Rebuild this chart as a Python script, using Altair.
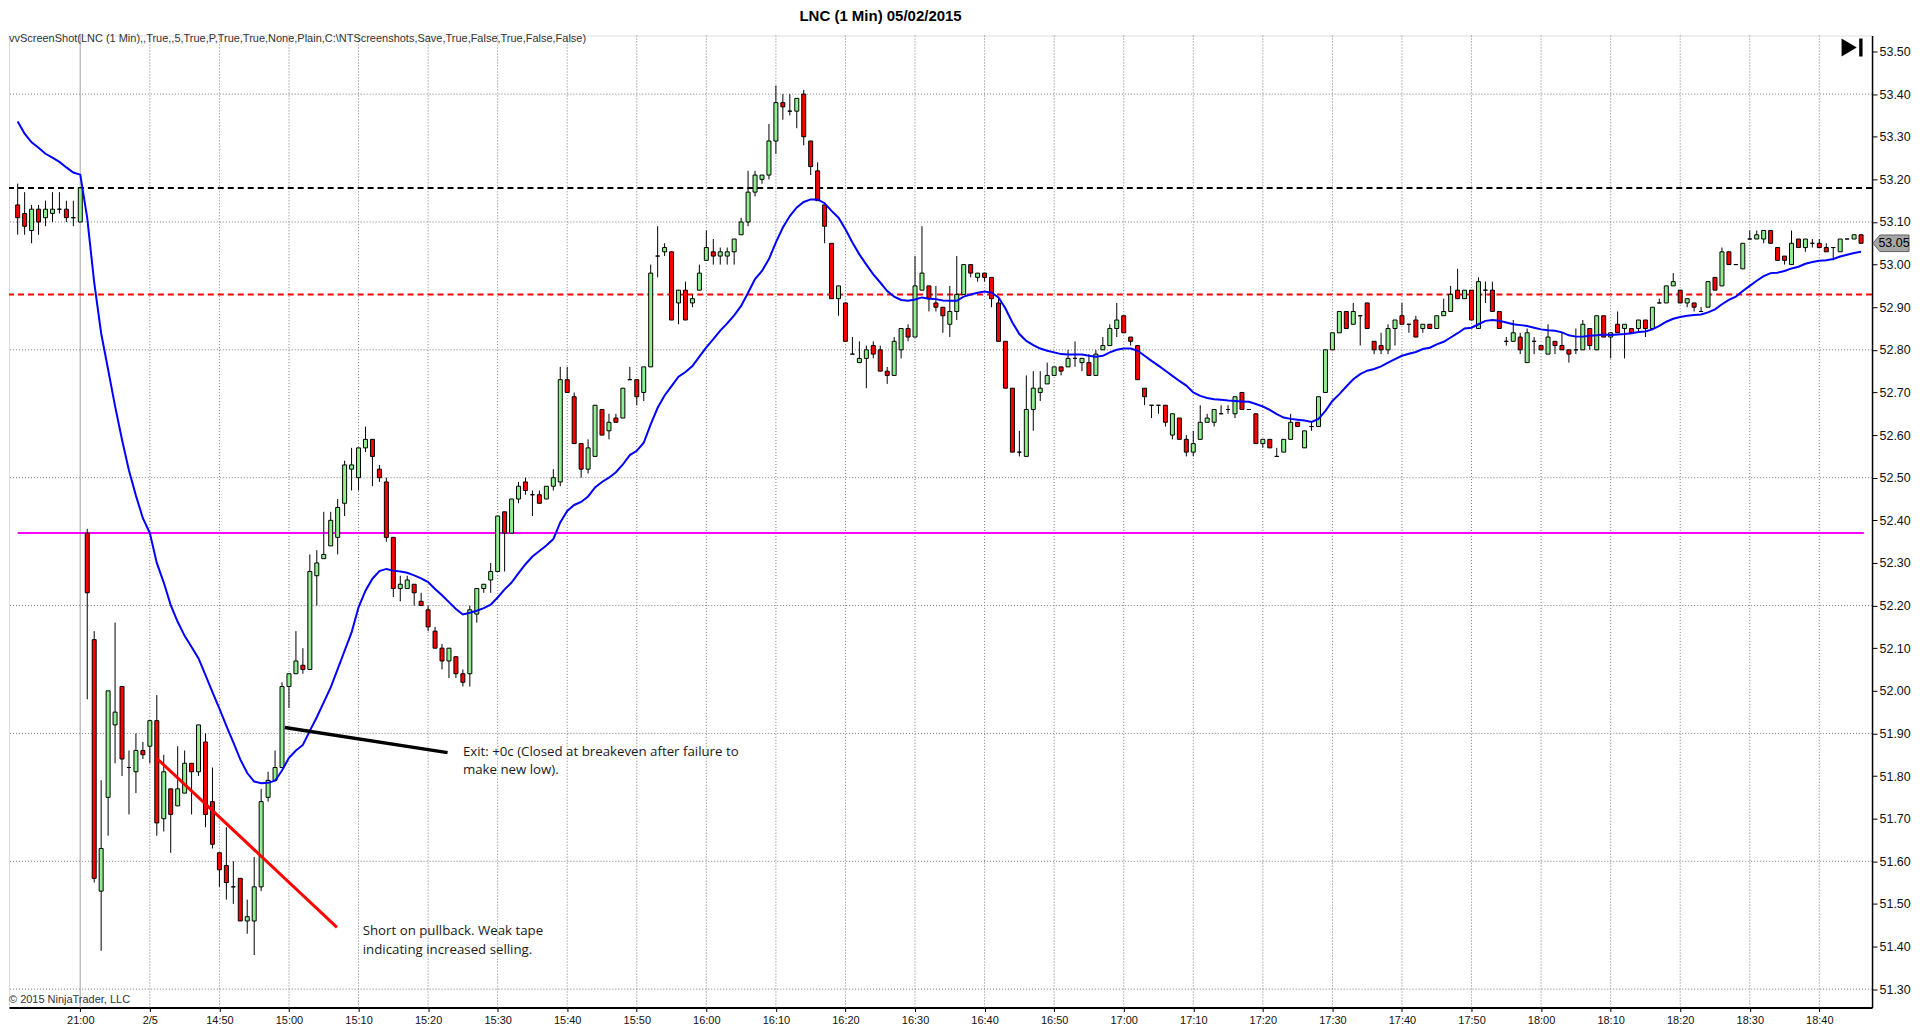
import altair as alt
import pandas as pd

# ---------------- data ----------------
first_bar = -9  # bar index of the first candle (21:00 bar is index 0)

opens = [
    53.14, 53.12, 53.08, 53.13, 53.11, 53.12, 53.13, 53.13, 53.11, 53.10,
    52.37, 52.12, 51.53, 51.75, 51.92, 52.01, 51.82, 51.81, 51.86, 51.87,
    51.93, 51.70, 51.77, 51.73, 51.76, 51.83, 51.81, 51.88, 51.74, 51.62,
    51.59, 51.54, 51.56, 51.46, 51.46, 51.54, 51.75, 51.79, 51.82, 52.01,
    52.04, 52.06, 52.05, 52.27, 52.31, 52.34, 52.36, 52.44, 52.52, 52.50,
    52.57, 52.59, 52.52, 52.49, 52.36, 52.24, 52.24, 52.25, 52.21, 52.19,
    52.14, 52.10, 52.07, 52.08, 52.04, 52.04, 52.18, 52.24, 52.26, 52.28,
    52.42, 52.37, 52.45, 52.49, 52.46, 52.46, 52.45, 52.48, 52.49, 52.73,
    52.69, 52.58, 52.52, 52.55, 52.66, 52.61, 52.64, 52.64, 52.73, 52.73,
    52.70, 52.76, 53.02, 53.03, 53.03, 52.91, 52.94, 52.91, 52.94, 53.01,
    53.03, 53.02, 53.02, 53.03, 53.07, 53.10, 53.17, 53.20, 53.21, 53.29,
    53.38, 53.36, 53.36, 53.40, 53.29, 53.22, 53.14, 53.05, 52.92, 52.91,
    52.79, 52.77, 52.78, 52.81, 52.80, 52.75, 52.74, 52.80, 52.85, 52.83,
    52.94, 52.95, 52.91, 52.90, 52.86, 52.89, 52.93, 53.00, 52.97, 52.98,
    52.97, 52.91, 52.82, 52.71, 52.56, 52.55, 52.66, 52.70, 52.72, 52.74,
    52.76, 52.76, 52.78, 52.77, 52.77, 52.74, 52.80, 52.81, 52.85, 52.88,
    52.83, 52.81, 52.71, 52.67, 52.67, 52.67, 52.60, 52.64, 52.59, 52.56,
    52.59, 52.63, 52.63, 52.65, 52.66, 52.65, 52.70, 52.66, 52.65, 52.58,
    52.59, 52.55, 52.56, 52.59, 52.63, 52.57, 52.62, 52.62, 52.70, 52.80,
    52.84, 52.89, 52.86, 52.88, 52.91, 52.82, 52.81, 52.80, 52.85, 52.88,
    52.86, 52.87, 52.85, 52.86, 52.85, 52.88, 52.89, 52.94, 52.92, 52.94,
    52.85, 52.94, 52.94, 52.89, 52.82, 52.82, 52.83, 52.77, 52.82, 52.81,
    52.79, 52.82, 52.81, 52.80, 52.80, 52.80, 52.85, 52.80, 52.88, 52.83,
    52.86, 52.85, 52.85, 52.85, 52.87, 52.85, 52.91, 52.91, 52.95, 52.94,
    52.91, 52.91, 52.89, 52.90, 52.97, 52.95, 53.03, 53.00, 52.99, 53.06,
    53.06, 53.06, 53.08, 53.04, 53.02, 53.00, 53.06, 53.04, 53.05, 53.05,
    53.04, 53.04, 53.03, 53.06, 53.06, 53.07,
]
highs = [
    53.19, 53.17, 53.14, 53.14, 53.15, 53.17, 53.17, 53.15, 53.15, 53.18,
    52.38, 52.14, 51.79, 52.00, 52.16, 52.01, 51.86, 51.90, 51.88, 51.93,
    51.99, 51.85, 51.77, 51.87, 51.86, 51.83, 51.92, 51.90, 51.82, 51.62,
    51.68, 51.60, 51.56, 51.51, 51.61, 51.77, 51.81, 51.86, 52.02, 52.04,
    52.14, 52.10, 52.32, 52.33, 52.42, 52.42, 52.45, 52.54, 52.57, 52.57,
    52.62, 52.59, 52.53, 52.50, 52.36, 52.27, 52.27, 52.25, 52.23, 52.20,
    52.15, 52.11, 52.10, 52.08, 52.05, 52.20, 52.24, 52.25, 52.30, 52.41,
    52.42, 52.45, 52.49, 52.50, 52.47, 52.47, 52.48, 52.52, 52.76, 52.76,
    52.70, 52.58, 52.59, 52.67, 52.66, 52.65, 52.65, 52.71, 52.76, 52.73,
    52.76, 53.00, 53.09, 53.05, 53.03, 52.94, 52.96, 52.93, 53.00, 53.08,
    53.06, 53.04, 53.04, 53.06, 53.11, 53.22, 53.22, 53.21, 53.33, 53.42,
    53.40, 53.40, 53.39, 53.41, 53.29, 53.24, 53.14, 53.05, 52.95, 52.91,
    52.83, 52.82, 52.81, 52.82, 52.81, 52.76, 52.83, 52.85, 52.86, 53.02,
    53.09, 52.95, 52.95, 52.90, 52.95, 53.02, 53.00, 53.00, 52.98, 52.98,
    52.97, 52.92, 52.82, 52.71, 52.61, 52.74, 52.75, 52.75, 52.77, 52.76,
    52.76, 52.80, 52.82, 52.78, 52.79, 52.80, 52.83, 52.86, 52.91, 52.88,
    52.83, 52.81, 52.71, 52.67, 52.67, 52.67, 52.65, 52.64, 52.60, 52.61,
    52.67, 52.65, 52.66, 52.67, 52.67, 52.69, 52.70, 52.66, 52.65, 52.59,
    52.59, 52.57, 52.59, 52.65, 52.63, 52.61, 52.63, 52.69, 52.80, 52.84,
    52.89, 52.89, 52.91, 52.88, 52.91, 52.82, 52.84, 52.86, 52.87, 52.91,
    52.86, 52.88, 52.86, 52.86, 52.88, 52.92, 52.95, 52.99, 52.94, 52.94,
    52.97, 52.96, 52.96, 52.89, 52.83, 52.87, 52.84, 52.85, 52.83, 52.81,
    52.86, 52.82, 52.84, 52.80, 52.85, 52.87, 52.85, 52.88, 52.88, 52.84,
    52.89, 52.86, 52.85, 52.87, 52.87, 52.90, 52.92, 52.95, 52.98, 52.94,
    52.92, 52.91, 52.90, 52.96, 52.97, 53.04, 53.03, 53.00, 53.05, 53.08,
    53.08, 53.08, 53.08, 53.04, 53.02, 53.08, 53.06, 53.06, 53.06, 53.06,
    53.05, 53.04, 53.06, 53.06, 53.07, 53.07,
]
lows = [
    53.07, 53.07, 53.05, 53.07, 53.09, 53.10, 53.12, 53.10, 53.09, 53.10,
    51.98, 51.55, 51.39, 51.66, 51.83, 51.80, 51.71, 51.76, 51.84, 51.83,
    51.66, 51.67, 51.62, 51.73, 51.76, 51.71, 51.80, 51.68, 51.63, 51.54,
    51.51, 51.50, 51.46, 51.43, 51.38, 51.53, 51.74, 51.79, 51.82, 51.96,
    52.04, 52.04, 52.05, 52.20, 52.31, 52.34, 52.32, 52.41, 52.47, 52.47,
    52.56, 52.48, 52.49, 52.35, 52.22, 52.21, 52.24, 52.20, 52.20, 52.14,
    52.10, 52.05, 52.03, 52.03, 52.01, 52.01, 52.16, 52.23, 52.23, 52.28,
    52.28, 52.37, 52.44, 52.46, 52.41, 52.44, 52.45, 52.47, 52.48, 52.70,
    52.58, 52.50, 52.51, 52.55, 52.60, 52.59, 52.63, 52.64, 52.73, 52.67,
    52.68, 52.76, 52.97, 53.02, 52.87, 52.86, 52.87, 52.90, 52.94, 53.01,
    53.00, 53.00, 53.00, 53.00, 53.07, 53.09, 53.16, 53.19, 53.20, 53.26,
    53.34, 53.35, 53.32, 53.28, 53.21, 53.15, 53.05, 52.92, 52.88, 52.82,
    52.79, 52.77, 52.71, 52.78, 52.75, 52.72, 52.74, 52.78, 52.82, 52.83,
    52.94, 52.89, 52.89, 52.84, 52.83, 52.87, 52.93, 52.97, 52.96, 52.96,
    52.90, 52.82, 52.71, 52.56, 52.55, 52.55, 52.61, 52.68, 52.72, 52.74,
    52.74, 52.76, 52.76, 52.75, 52.74, 52.74, 52.80, 52.81, 52.83, 52.84,
    52.81, 52.73, 52.67, 52.64, 52.65, 52.62, 52.59, 52.59, 52.55, 52.55,
    52.59, 52.63, 52.62, 52.65, 52.65, 52.64, 52.66, 52.66, 52.58, 52.57,
    52.57, 52.55, 52.56, 52.59, 52.62, 52.57, 52.61, 52.62, 52.70, 52.80,
    52.84, 52.85, 52.86, 52.81, 52.85, 52.79, 52.79, 52.79, 52.81, 52.86,
    52.84, 52.83, 52.84, 52.85, 52.85, 52.88, 52.89, 52.92, 52.92, 52.87,
    52.85, 52.91, 52.89, 52.85, 52.81, 52.82, 52.79, 52.77, 52.79, 52.80,
    52.79, 52.79, 52.80, 52.77, 52.79, 52.80, 52.80, 52.80, 52.83, 52.78,
    52.84, 52.78, 52.84, 52.84, 52.83, 52.85, 52.91, 52.91, 52.95, 52.91,
    52.90, 52.89, 52.89, 52.90, 52.94, 52.95, 53.00, 53.00, 52.99, 53.06,
    53.06, 53.05, 53.05, 53.01, 53.00, 53.00, 53.04, 53.03, 53.04, 53.04,
    53.03, 53.01, 53.03, 53.06, 53.06, 53.05,
]
closes = [
    53.11, 53.09, 53.13, 53.10, 53.13, 53.13, 53.13, 53.11, 53.11, 53.18,
    52.23, 51.56, 51.63, 52.00, 51.95, 51.84, 51.82, 51.86, 51.85, 51.93,
    51.69, 51.81, 51.71, 51.77, 51.83, 51.81, 51.92, 51.71, 51.64, 51.58,
    51.55, 51.54, 51.46, 51.47, 51.54, 51.74, 51.79, 51.82, 52.01, 52.04,
    52.07, 52.05, 52.28, 52.30, 52.32, 52.40, 52.43, 52.53, 52.53, 52.57,
    52.59, 52.55, 52.50, 52.36, 52.24, 52.25, 52.26, 52.23, 52.20, 52.15,
    52.10, 52.07, 52.10, 52.04, 52.02, 52.19, 52.24, 52.25, 52.28, 52.41,
    52.37, 52.45, 52.48, 52.47, 52.46, 52.44, 52.48, 52.50, 52.73, 52.70,
    52.58, 52.52, 52.57, 52.67, 52.60, 52.63, 52.63, 52.71, 52.73, 52.69,
    52.76, 52.98, 53.02, 53.04, 52.87, 52.94, 52.87, 52.92, 52.98, 53.04,
    53.02, 53.03, 53.03, 53.06, 53.10, 53.17, 53.21, 53.21, 53.29, 53.38,
    53.37, 53.36, 53.39, 53.30, 53.23, 53.15, 53.09, 52.92, 52.95, 52.82,
    52.79, 52.78, 52.80, 52.79, 52.75, 52.74, 52.82, 52.85, 52.83, 52.95,
    52.98, 52.92, 52.90, 52.88, 52.89, 52.93, 53.00, 52.98, 52.98, 52.97,
    52.92, 52.82, 52.71, 52.56, 52.56, 52.66, 52.71, 52.71, 52.74, 52.76,
    52.75, 52.78, 52.78, 52.78, 52.74, 52.79, 52.81, 52.85, 52.87, 52.84,
    52.82, 52.73, 52.69, 52.67, 52.67, 52.63, 52.65, 52.59, 52.56, 52.58,
    52.63, 52.64, 52.66, 52.65, 52.66, 52.69, 52.66, 52.66, 52.58, 52.59,
    52.57, 52.55, 52.59, 52.63, 52.62, 52.61, 52.62, 52.69, 52.80, 52.84,
    52.89, 52.85, 52.89, 52.88, 52.85, 52.80, 52.80, 52.85, 52.87, 52.86,
    52.86, 52.83, 52.86, 52.85, 52.88, 52.89, 52.93, 52.92, 52.94, 52.87,
    52.96, 52.94, 52.89, 52.85, 52.82, 52.84, 52.80, 52.84, 52.82, 52.80,
    52.83, 52.81, 52.80, 52.79, 52.80, 52.86, 52.81, 52.88, 52.83, 52.84,
    52.84, 52.86, 52.84, 52.87, 52.85, 52.90, 52.91, 52.95, 52.96, 52.91,
    52.92, 52.90, 52.89, 52.96, 52.94, 53.03, 53.00, 53.00, 53.05, 53.06,
    53.07, 53.08, 53.05, 53.01, 53.01, 53.05, 53.04, 53.06, 53.05, 53.04,
    53.03, 53.04, 53.06, 53.06, 53.07, 53.05,
]
moving_avg = [
    53.336, 53.307, 53.287, 53.274, 53.260, 53.251, 53.241, 53.228, 53.216, 53.211,
    53.109, 52.958, 52.839, 52.754, 52.668, 52.589, 52.517, 52.458, 52.405, 52.370,
    52.300, 52.254, 52.201, 52.162, 52.129, 52.103, 52.076, 52.037, 51.997, 51.958,
    51.918, 51.879, 51.839, 51.807, 51.787, 51.783, 51.784, 51.789, 51.813, 51.843,
    51.860, 51.873, 51.906, 51.938, 51.973, 52.008, 52.051, 52.094, 52.137, 52.196,
    52.235, 52.263, 52.281, 52.286, 52.282, 52.280, 52.277, 52.271, 52.264, 52.255,
    52.239, 52.224, 52.208, 52.192, 52.179, 52.183, 52.188, 52.194, 52.202, 52.219,
    52.238, 52.254, 52.276, 52.297, 52.315, 52.328, 52.341, 52.356, 52.395, 52.422,
    52.436, 52.443, 52.456, 52.477, 52.490, 52.500, 52.513, 52.531, 52.553, 52.563,
    52.582, 52.625, 52.664, 52.693, 52.715, 52.737, 52.748, 52.762, 52.784, 52.806,
    52.825, 52.845, 52.862, 52.881, 52.903, 52.934, 52.966, 52.985, 53.013, 53.052,
    53.087, 53.114, 53.134, 53.147, 53.153, 53.153, 53.144, 53.126, 53.110, 53.083,
    53.052, 53.024, 53.000, 52.977, 52.958, 52.938, 52.925, 52.917, 52.915, 52.918,
    52.923, 52.920, 52.919, 52.916, 52.915, 52.915, 52.925, 52.930, 52.934, 52.937,
    52.934, 52.923, 52.897, 52.864, 52.837, 52.821, 52.811, 52.803, 52.798, 52.794,
    52.790, 52.789, 52.789, 52.789, 52.786, 52.784, 52.786, 52.794, 52.800, 52.803,
    52.803, 52.798, 52.786, 52.774, 52.763, 52.751, 52.739, 52.727, 52.716, 52.700,
    52.692, 52.687, 52.684, 52.683, 52.681, 52.680, 52.679, 52.678, 52.673, 52.667,
    52.659, 52.649, 52.641, 52.638, 52.636, 52.634, 52.631, 52.638, 52.657, 52.680,
    52.696, 52.714, 52.731, 52.743, 52.751, 52.755, 52.761, 52.770, 52.778, 52.786,
    52.791, 52.795, 52.802, 52.805, 52.813, 52.819, 52.829, 52.839, 52.850, 52.852,
    52.860, 52.868, 52.870, 52.868, 52.864, 52.860, 52.858, 52.856, 52.852, 52.848,
    52.846, 52.845, 52.841, 52.834, 52.831, 52.831, 52.833, 52.834, 52.836, 52.835,
    52.836, 52.837, 52.839, 52.842, 52.843, 52.848, 52.856, 52.866, 52.873, 52.877,
    52.880, 52.882, 52.883, 52.888, 52.895, 52.907, 52.917, 52.925, 52.938, 52.950,
    52.962, 52.973, 52.980, 52.981, 52.985, 52.991, 52.995, 53.002, 53.006, 53.009,
    53.010, 53.013, 53.019, 53.023, 53.027, 53.030,
]

tick_positions = list(range(0, 251, 10))
tick_labels = ["21:00", "2/5", "14:50", "15:00", "15:10", "15:20", "15:30", "15:40",
               "15:50", "16:00", "16:10", "16:20", "16:30", "16:40", "16:50", "17:00",
               "17:10", "17:20", "17:30", "17:40", "17:50", "18:00", "18:10", "18:20",
               "18:30", "18:40"]
price_ticks = [round(51.3 + 0.1 * k, 2) for k in range(23)]
price_grid = [51.3, 51.6, 51.9, 52.2, 52.5, 52.8, 53.1, 53.4]
session_break = [0]
time_grid = [p for p in tick_positions if p != 0]

stop_level = 53.18      # black dashed
entry_level = 52.93     # red dashed
open_level = 52.37      # magenta

exit_line_x = [29.4, 52.8]
exit_line_y = [51.914, 51.855]
short_line_x = [11.1, 36.9]
short_line_y = [51.84, 51.445]

exit_text = ["Exit: +0c (Closed at breakeven after failure to", "make new low)."]
exit_text_x = [55.0, 55.0]
exit_text_y = [51.857, 51.815]
short_text = ["Short on pullback. Weak tape", "indicating increased selling."]
short_text_x = [40.6, 40.6]
short_text_y = [51.436, 51.393]

title_text = "LNC (1 Min)  05/02/2015"
header_text = "vvScreenShot(LNC (1 Min),,True,,5,True,P,True,True,None,Plain,C:\\NTScreenshots,Save,True,False,True,False,False)"
copyright_text = "\u00a9 2015 NinjaTrader, LLC"

# ---------------- chart ----------------
W, H = 1865, 973
idx = list(range(first_bar, first_bar + len(opens)))
bars = pd.DataFrame({"i": idx, "open": opens, "high": highs, "low": lows,
                     "close": closes, "ma": moving_avg})

xscale = alt.Scale(domain=[-9.53, 256.86], nice=False, zero=False)
yscale = alt.Scale(domain=[51.257, 53.5375], nice=False, zero=False)

label_array = "[" + ",".join("'" + t + "'" for t in tick_labels) + "]"
x_axis = alt.Axis(values=tick_positions, labelExpr=label_array + "[round(datum.value/10)]",
                  grid=False, domainColor="black", domainWidth=2, tickColor="black",
                  tickSize=4, labelFont="Liberation Sans Narrow, Liberation Sans",
                  labelFontSize=11, labelColor="#111111", labelPadding=3, title=None)
y_axis = alt.Axis(values=price_ticks, format=".2f", orient="right", grid=False,
                  domainColor="black", domainWidth=1.5, tickColor="black", tickSize=5,
                  labelFont="Liberation Sans Narrow, Liberation Sans", labelFontSize=12.5,
                  labelColor="#111111", labelPadding=2, title=None)


def X(field):
    return alt.X(field, type="quantitative", scale=xscale, axis=x_axis)


def Y(field):
    return alt.Y(field, type="quantitative", scale=yscale, axis=y_axis)


grid_v = alt.Chart(pd.DataFrame({"g": time_grid})).mark_rule(
    color="#7a7a7a", strokeWidth=1, strokeDash=[1, 2]).encode(x=X("g"))
break_v = alt.Chart(pd.DataFrame({"g": session_break})).mark_rule(
    color="#c0c0c0", strokeWidth=1.5).encode(x=X("g"))
grid_h = alt.Chart(pd.DataFrame({"p": price_grid})).mark_rule(
    color="#7a7a7a", strokeWidth=1, strokeDash=[1, 2]).encode(y=Y("p"))

stop_rule = alt.Chart(pd.DataFrame({"p": [stop_level]})).mark_rule(
    color="black", strokeWidth=2, strokeDash=[6, 4]).encode(y=Y("p"))
entry_rule = alt.Chart(pd.DataFrame({"p": [entry_level]})).mark_rule(
    color="#ff0000", strokeWidth=2, strokeDash=[6, 4]).encode(y=Y("p"))
open_rule = alt.Chart(pd.DataFrame({"p": [open_level], "a": [first_bar], "b": [idx[-1] + 0.4]})).mark_rule(
    color="#ff00ff", strokeWidth=2).encode(y=Y("p"), x=X("a"), x2="b")

wicks = alt.Chart(bars).mark_rule(color="black", strokeWidth=1).encode(
    x=X("i"), y=Y("low"), y2="high")
bodies = alt.Chart(bars).mark_bar(size=4, stroke="black", strokeWidth=1).encode(
    x=X("i"), y=Y("open"), y2="close",
    color=alt.condition("datum.close >= datum.open", alt.value("#90ee90"), alt.value("#ff0000")))

ma_line = alt.Chart(bars).mark_line(color="#0000ff", strokeWidth=2).encode(
    x=X("i"), y=Y("ma"))

exit_df = pd.DataFrame({"x": exit_line_x, "y": exit_line_y})
short_df = pd.DataFrame({"x": short_line_x, "y": short_line_y})
exit_line = alt.Chart(exit_df).mark_line(color="black", strokeWidth=3.5).encode(x=X("x"), y=Y("y"))
short_line = alt.Chart(short_df).mark_line(color="#ff0000", strokeWidth=3).encode(x=X("x"), y=Y("y"))

notes = pd.DataFrame({"t": exit_text + short_text,
                      "x": exit_text_x + short_text_x,
                      "y": exit_text_y + short_text_y})
note_text = alt.Chart(notes).mark_text(align="left", baseline="middle", font="Open Sans",
                                       fontSize=13.3, color="#1a1a1a").encode(
    x=X("x"), y=Y("y"), text="t:N")

header = alt.Chart(pd.DataFrame({"t": [header_text]})).mark_text(
    align="left", baseline="middle", font="Liberation Sans Narrow, Liberation Sans",
    fontSize=11, color="#333333").encode(x=alt.value(0), y=alt.value(4), text="t:N")
copyright = alt.Chart(pd.DataFrame({"t": [copyright_text]})).mark_text(
    align="left", baseline="middle", font="Liberation Sans Narrow, Liberation Sans",
    fontSize=11, color="#333333").encode(x=alt.value(0), y=alt.value(H - 7), text="t:N")

last_df = pd.DataFrame({"p": [closes[-1]], "t": [f"{closes[-1]:.2f}"]})
marker_path = "M -1 0 L -0.62 -0.46 L 1 -0.46 L 1 0.46 L -0.62 0.46 Z"
last_marker = alt.Chart(last_df).mark_point(
    shape=marker_path, filled=True, fill="#a6a6a6", stroke="#606060", strokeWidth=1,
    size=1300, opacity=1).encode(x=alt.value(W + 19), y=Y("p"))
last_text = alt.Chart(last_df).mark_text(
    align="center", baseline="middle", font="Liberation Sans Narrow, Liberation Sans",
    fontSize=12.5, color="black").encode(x=alt.value(W + 22), y=Y("p"), text="t:N")

icon_path = "M -1 -0.85 L 0.45 0 L -1 0.85 Z M 0.68 -0.85 L 1 -0.85 L 1 0.85 L 0.68 0.85 Z"
play_icon = alt.Chart(pd.DataFrame({"k": [1]})).mark_point(
    shape=icon_path, filled=True, color="black", size=441, opacity=1).encode(
    x=alt.value(W - 20), y=alt.value(12))

chart = alt.layer(
    grid_v, break_v, grid_h, stop_rule, entry_rule, open_rule,
    wicks, bodies, ma_line, exit_line, short_line, note_text,
    header, copyright, last_marker, last_text, play_icon
).properties(
    width=W, height=H,
    title=alt.TitleParams(title_text, font="Liberation Sans", fontSize=15, fontWeight="bold",
                          anchor="middle", dx=-60, offset=10, color="black"),
    padding={"left": 0, "top": 0, "right": 0, "bottom": 0},
).configure_view(strokeWidth=0).configure(background="white")

chart.save("out.html", embed_options={"renderer": "svg", "actions": False})
